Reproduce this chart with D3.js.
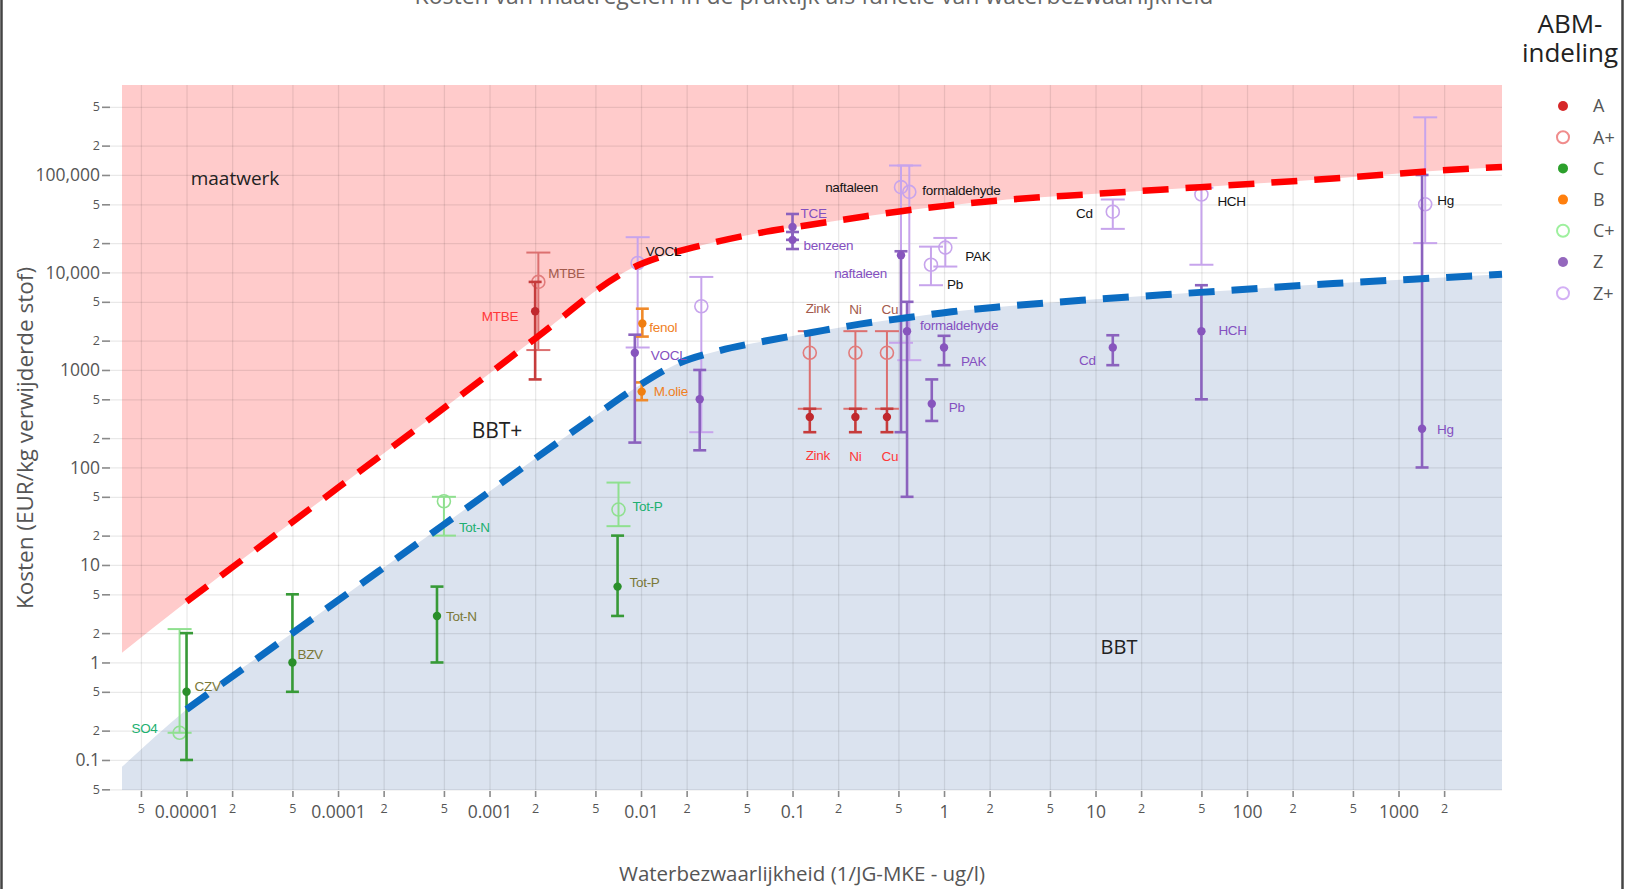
<!DOCTYPE html>
<html>
<head>
<meta charset="utf-8">
<script src="https://cdn.jsdelivr.net/npm/d3@7"></script>
<style>
body{margin:0;background:#fff}
svg{display:block}
text{font-family:"Open Sans",sans-serif}
</style>
</head>
<body>
<svg id="chart" width="1625" height="889"></svg>
<script>
var width = 1625, height = 889
var plotLeft = 122, plotRight = 1502, plotTop = 85, plotBottom = 790

// axis extents
var wbzMin = 3.75e-6, wbzMax = 4820
var costMin = 0.0492, costMax = 837000

var xMajorTicks = [1e-5, 1e-4, 1e-3, 0.01, 0.1, 1, 10, 100, 1000]
var xMajorLabels = ["0.00001", "0.0001", "0.001", "0.01", "0.1", "1", "10", "100", "1000"]
var yMajorTicks = [0.1, 1, 10, 100, 1000, 10000, 100000]
var yMajorLabels = ["0.1", "1", "10", "100", "1000", "10,000", "100,000"]
var minorSteps = [2, 5]

var legendKeys = ["A", "A+", "C", "B", "C+", "Z", "Z+"]

// boundary lines [waterbezwaarlijkheid, kosten]
var redLine = [[1e-5, 4.2], [1e-4, 62], [1e-3, 920], [0.002, 2100], [0.0094, 11700], [0.0145, 15000],
  [0.029, 20000], [0.061, 25500], [0.125, 30500], [0.25, 36000], [0.52, 42500], [1.05, 48500],
  [2.2, 54500], [10, 64000], [49, 75000], [370, 92000], [2230, 113000], [4820, 121000]]
var blueLine = [[1e-5, 0.33], [5e-5, 2.0], [5e-4, 26], [0.0048, 325], [0.0087, 620], [0.0166, 1120],
  [0.033, 1580], [0.066, 1980], [0.134, 2420], [0.278, 2950], [0.58, 3450], [1.12, 3950],
  [2.2, 4400], [10, 5300], [49, 6250], [370, 7700], [3850, 9400], [4820, 9600]]
var pinkEdgeStart = [3.75e-6, 1.26]
var blueEdgeStart = [3.75e-6, 0.085]

// [naam, waterbezwaarlijkheid, kosten, laag, hoog]
var pointsA = [["MTBE", 0.002, 4000, 800, 8000], ["Zink", 0.13, 330, 230, 400],
  ["Ni", 0.26, 330, 230, 400], ["Cu", 0.42, 330, 230, 400]]
var pointsAplus = [["MTBE", 0.0021, 8000, 1600, 16000], ["Zink", 0.13, 1500, 400, 2500],
  ["Ni", 0.26, 1500, 400, 2500], ["Cu", 0.42, 1500, 400, 2500]]
var pointsC = [["CZV", 1e-5, 0.5, 0.1, 2], ["BZV", 5e-5, 1, 0.5, 5],
  ["Tot-N", 4.5e-4, 3, 1, 6], ["Tot-P", 0.007, 6, 3, 20]]
var pointsB = [["fenol", 0.0102, 3000, 2200, 4250], ["M.olie", 0.0101, 600, 490, 745]]
var pointsCplus = [["SO4", 9e-6, 0.19, 0.19, 2.2], ["Tot-N", 5e-4, 45, 20, 50], ["Tot-P", 0.0071, 37, 25, 70]]
var pointsZ = [["VOCL", 0.0091, 1500, 180, 2300], ["", 0.0244, 500, 150, 1000],
  ["TCE", 0.1, 29300, 21600, 39800], ["benzeen", 0.1, 21600, 17400, 26000],
  ["naftaleen", 0.52, 15000, 230, 16500], ["formaldehyde", 0.57, 2500, 50, 5000],
  ["Pb", 0.83, 450, 300, 800], ["PAK", 1.0, 1700, 1120, 2240],
  ["Cd", 13, 1700, 1120, 2270], ["HCH", 50, 2500, 500, 7400], ["Hg", 1430, 250, 100, 100000]]
var pointsZplus = [["VOCL", 0.0095, 12500, 1700, 23000], ["", 0.025, 4500, 230, 9000],
  ["naftaleen", 0.52, 75000, 1900, 125000], ["formaldehyde", 0.59, 67000, 1260, 125000],
  ["Pb", 0.82, 12000, 7400, 18400], ["PAK", 1.02, 18000, 11500, 22600],
  ["Cd", 13, 42000, 28000, 56000], ["HCH", 50, 63000, 12000, 74000], ["Hg", 1500, 50000, 20000, 390000]]

var groups = [
  {key: "A+", rows: pointsAplus}, {key: "C+", rows: pointsCplus}, {key: "Z+", rows: pointsZplus},
  {key: "A", rows: pointsA}, {key: "C", rows: pointsC}, {key: "B", rows: pointsB}, {key: "Z", rows: pointsZ}
]

var catStyle = {
  "A":  {bar: "#c63c3c", w: 2.6, cap: 6.5, open: false, mark: "#c0282d", text: "#ff3838", legend: "#d62728"},
  "A+": {bar: "#dc7070", w: 2,   cap: 12,  open: true,  mark: "#e27c7c", text: "#a35a4c", legend: "#f08c8c"},
  "C":  {bar: "#379a37", w: 2.6, cap: 6.5, open: false, mark: "#2a8f2a", text: "#7a7838", legend: "#2ca02c"},
  "B":  {bar: "#f08a2a", w: 2.6, cap: 6.5, open: false, mark: "#f07f10", text: "#f0801e", legend: "#ff7f0e"},
  "C+": {bar: "#8fe08f", w: 2,   cap: 12,  open: true,  mark: "#90e090", text: "#20b070", legend: "#9ef09e"},
  "Z":  {bar: "#8b62be", w: 2.6, cap: 6.5, open: false, mark: "#8755bd", text: "#8450c0", legend: "#9467bd"},
  "Z+": {bar: "#c7a4ec", w: 2,   cap: 12,  open: true,  mark: "#c7a4ec", text: "#151515", legend: "#d3b0f5"}
}

// label offsets from the point, in px: [dx, dy, anchor]
var labelPlacement = {
  "A|MTBE": [-17, 5, "end"], "A|Zink": [8, 38, "middle"], "A|Ni": [0, 39, "middle"], "A|Cu": [3, 39, "middle"],
  "A+|MTBE": [10, -9, "start"], "A+|Zink": [8, -45, "middle"], "A+|Ni": [0, -44, "middle"], "A+|Cu": [3, -44, "middle"],
  "C|CZV": [8, -6, "start"], "C|BZV": [5, -8, "start"], "C|Tot-N": [9, 0, "start"], "C|Tot-P": [12, -4, "start"],
  "C+|SO4": [-22, -5, "end"], "C+|Tot-N": [15, 26, "start"], "C+|Tot-P": [14, -3, "start"],
  "B|fenol": [7, 4, "start"], "B|M.olie": [12, 0, "start"],
  "Z|VOCL": [16, 2, "start"], "Z|TCE": [8, -14, "start"], "Z|benzeen": [11, 5, "start"],
  "Z|naftaleen": [-14, 18, "end"], "Z|formaldehyde": [13, -6, "start"], "Z|Pb": [17, 3, "start"],
  "Z|PAK": [17, 14, "start"], "Z|Cd": [-17, 13, "end"], "Z|HCH": [17, -1, "start"], "Z|Hg": [15, 1, "start"],
  "Z+|VOCL": [8, -12, "start"], "Z+|naftaleen": [-23, 0, "end"], "Z+|formaldehyde": [13, -2, "start"],
  "Z+|Pb": [16, 20, "start"], "Z+|PAK": [20, 9, "start"], "Z+|Cd": [-20, 2, "end"],
  "Z+|HCH": [16, 7, "start"], "Z+|Hg": [12, -4, "start"]
}

var svg = d3.select("#chart")
svg.append("rect").attr("width", width).attr("height", height).attr("fill", "#fff")

var x = d3.scaleLog().domain([wbzMin, wbzMax]).range([plotLeft, plotRight])
var y = d3.scaleLog().domain([costMin, costMax]).range([plotBottom, plotTop])

function minorTicks(scale, majors) {
  var out = []
  var first = majors[0] / 10
  for (var d = first; d <= majors[majors.length - 1] * 10; d *= 10) {
    minorSteps.forEach(function (m) {
      var v = d * m
      var dom = scale.domain()
      if (v >= dom[0] && v <= dom[1]) out.push(v)
    })
  }
  return out
}
var xMinor = minorTicks(x, xMajorTicks)
var yMinor = minorTicks(y, yMajorTicks)
var xAll = xMajorTicks.concat(xMinor)
var yAll = yMajorTicks.concat(yMinor)

function isMajor(list, v) {
  return list.some(function (m) { return Math.abs(m - v) / m < 1e-6 })
}
function majorIndex(list, v) {
  return list.findIndex(function (m) { return Math.abs(m - v) / m < 1e-6 })
}

//#region regions
svg.append("path")
  .datum([pinkEdgeStart].concat(redLine))
  .attr("fill", "#ffcbcb")
  .attr("d", d3.area().x(function (d) { return x(d[0]) })
    .y0(y(costMax)).y1(function (d) { return y(d[1]) }).curve(d3.curveMonotoneX))

svg.append("path")
  .datum([blueEdgeStart].concat(blueLine))
  .attr("fill", "#dbe3ef")
  .attr("d", d3.area().x(function (d) { return x(d[0]) })
    .y0(y(costMin)).y1(function (d) { return y(d[1]) }).curve(d3.curveMonotoneX))
//#endregion

//#region grid
svg.append("g").attr("transform", "translate(0," + plotBottom + ")")
  .call(d3.axisBottom(x).tickValues(xAll).tickSize(-(plotBottom - plotTop)).tickFormat(""))
  .call(function (g) { g.select(".domain").remove() })
  .selectAll("line").attr("stroke", "#000").attr("stroke-opacity", 0.085).attr("stroke-width", 1.3)

svg.append("g").attr("transform", "translate(" + plotRight + ",0)")
  .call(d3.axisLeft(y).tickValues(yAll).tickSize(plotRight - 110).tickFormat(""))
  .call(function (g) { g.select(".domain").remove() })
  .selectAll("line").attr("stroke", "#000").attr("stroke-opacity", 0.085).attr("stroke-width", 1.3)
//#endregion

//#region axes
var yAxis = svg.append("g").attr("transform", "translate(110,0)")
  .call(d3.axisLeft(y).tickValues(yAll).tickSize(8).tickPadding(2)
    .tickFormat(function (d) {
      var i = majorIndex(yMajorTicks, d)
      return i >= 0 ? yMajorLabels[i] : String(Math.round(d / Math.pow(10, Math.floor(Math.log10(d) + 1e-9))))
    }))
yAxis.select(".domain").remove()
yAxis.selectAll("line").attr("stroke", "#8a8a8a").attr("stroke-width", 1.6)
yAxis.selectAll("text").attr("fill", "#555")
  .style("font-size", function (d) { return isMajor(yMajorTicks, d) ? "17.5px" : "12.5px" })

var xAxis = svg.append("g").attr("transform", "translate(0," + (plotBottom + 1) + ")")
  .call(d3.axisBottom(x).tickValues(xAll).tickSize(6)
    .tickFormat(function (d) {
      var i = majorIndex(xMajorTicks, d)
      return i >= 0 ? xMajorLabels[i] : String(Math.round(d / Math.pow(10, Math.floor(Math.log10(d) + 1e-9))))
    }))
xAxis.select(".domain").remove()
xAxis.selectAll("line").attr("stroke", "#8a8a8a").attr("stroke-width", 1.6)
xAxis.selectAll("text").attr("fill", "#555").attr("dy", "0")
  .attr("y", function (d) { return isMajor(xMajorTicks, d) ? 27 : 22 })
  .style("font-size", function (d) { return isMajor(xMajorTicks, d) ? "17.5px" : "12.5px" })
//#endregion

//#region error bars
groups.forEach(function (grp) {
  var st = catStyle[grp.key]
  var g = svg.append("g").selectAll("g").data(grp.rows).join("g")
    .attr("transform", function (d) { return "translate(" + x(d[1]) + ",0)" })
  g.append("line").attr("y1", function (d) { return y(d[3]) }).attr("y2", function (d) { return y(d[4]) })
    .attr("stroke", st.bar).attr("stroke-width", st.w)
  g.append("line").attr("x1", -st.cap).attr("x2", st.cap)
    .attr("y1", function (d) { return y(d[3]) }).attr("y2", function (d) { return y(d[3]) })
    .attr("stroke", st.bar).attr("stroke-width", st.w)
  g.append("line").attr("x1", -st.cap).attr("x2", st.cap)
    .attr("y1", function (d) { return y(d[4]) }).attr("y2", function (d) { return y(d[4]) })
    .attr("stroke", st.bar).attr("stroke-width", st.w)
  g.append("circle").attr("cy", function (d) { return y(d[2]) })
    .attr("r", st.open ? 6.5 : 4.2)
    .attr("fill", st.open ? "none" : st.mark)
    .attr("stroke", st.mark).attr("stroke-width", st.open ? 1.6 : 0)
})
//#endregion

//#region dashed lines
var lineGen = d3.line().x(function (d) { return x(d[0]) }).y(function (d) { return y(d[1]) }).curve(d3.curveMonotoneX)
svg.append("path").datum(redLine).attr("d", lineGen)
  .attr("fill", "none").attr("stroke", "#ff0000").attr("stroke-width", 6.5).attr("stroke-dasharray", "26,17")
svg.append("path").datum(blueLine).attr("d", lineGen)
  .attr("fill", "none").attr("stroke", "#0b6cc2").attr("stroke-width", 7).attr("stroke-dasharray", "26,17")
//#endregion

//#region labels
groups.forEach(function (grp) {
  var st = catStyle[grp.key]
  svg.append("g").selectAll("text").data(grp.rows.filter(function (r) { return r[0] !== "" })).join("text")
    .text(function (d) { return d[0] })
    .attr("x", function (d) { return x(d[1]) + labelPlacement[grp.key + "|" + d[0]][0] })
    .attr("y", function (d) { return y(d[2]) + labelPlacement[grp.key + "|" + d[0]][1] })
    .attr("dy", "0.35em")
    .attr("text-anchor", function (d) { return labelPlacement[grp.key + "|" + d[0]][2] })
    .attr("fill", st.text)
    .style("font-family", "'Liberation Sans', Arial, sans-serif")
    .style("font-size", "13.5px")
    .style("letter-spacing", "-0.3px")
})

svg.append("text").text("maatwerk").attr("x", 235).attr("y", 178).attr("dy", "0.35em")
  .attr("text-anchor", "middle").attr("fill", "#222").style("font-size", "19px")
svg.append("text").text("BBT+").attr("x", 497).attr("y", 431).attr("dy", "0.35em")
  .attr("text-anchor", "middle").attr("fill", "#222").style("font-size", "21px")
svg.append("text").text("BBT").attr("x", 1119).attr("y", 647).attr("dy", "0.35em")
  .attr("text-anchor", "middle").attr("fill", "#222").style("font-size", "20px")
//#endregion

//#region titles
svg.append("text").text("Kosten van maatregelen in de praktijk als functie van waterbezwaarlijkheid")
  .attr("x", 814).attr("y", 3.5).attr("text-anchor", "middle").attr("fill", "#666").style("font-size", "23px")

svg.append("text").text("Kosten (EUR/kg verwijderde stof)")
  .attr("transform", "translate(33,438) rotate(-90)").attr("text-anchor", "middle")
  .attr("fill", "#555").style("font-size", "22.5px")

svg.append("text").text("Waterbezwaarlijkheid (1/JG-MKE - ug/l)")
  .attr("x", 802).attr("y", 881).attr("text-anchor", "middle")
  .attr("fill", "#555").style("font-size", "20.5px")
//#endregion

//#region legend
var legTitle = svg.append("text").attr("text-anchor", "middle")
  .attr("fill", "#222").style("font-size", "26px")
legTitle.append("tspan").text("ABM-").attr("x", 1570).attr("y", 33)
legTitle.append("tspan").text("indeling").attr("x", 1570).attr("y", 62)

var leg = svg.append("g").selectAll("g").data(legendKeys).join("g")
  .attr("transform", function (d, i) { return "translate(1563," + (106 + i * 31.2) + ")" })
leg.append("circle")
  .attr("r", function (d) { return catStyle[d].open ? 6 : 5 })
  .attr("fill", function (d) { return catStyle[d].open ? "none" : catStyle[d].legend })
  .attr("stroke", function (d) { return catStyle[d].legend })
  .attr("stroke-width", function (d) { return catStyle[d].open ? 2 : 0 })
leg.append("text").text(function (d) { return d }).attr("x", 30).attr("dy", "0.35em")
  .attr("fill", "#555").style("font-size", "18px")
//#endregion

// frame
svg.append("line").attr("x1", 1.5).attr("x2", 1.5).attr("y1", 0).attr("y2", height)
  .attr("stroke", "#444").attr("stroke-width", 2.5)
svg.append("line").attr("x1", 1622.5).attr("x2", 1622.5).attr("y1", 0).attr("y2", height)
  .attr("stroke", "#444").attr("stroke-width", 2.5)
</script>
</body>
</html>
